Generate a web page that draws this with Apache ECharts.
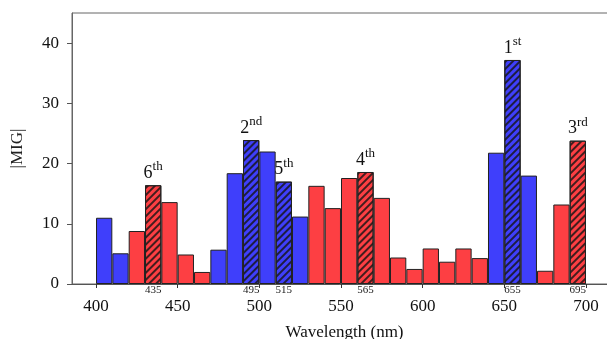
<!DOCTYPE html>
<html>
<head>
<meta charset="utf-8">
<script src="https://cdn.jsdelivr.net/npm/echarts@6/dist/echarts.min.js"></script>
<style>
  html, body { margin: 0; padding: 0; background: #fff; }
  #chart { width: 607px; height: 339px; }
</style>
</head>
<body>
<div id="chart"></div>
<script>
// bin centres (nm), 10 nm wide bins
const wavelengths = [405, 415, 425, 435, 445, 455, 465, 475, 485, 495,
  505, 515, 525, 535, 545, 555, 565, 575, 585, 595,
  605, 615, 625, 635, 645, 655, 665, 675, 685, 695];
const migValues = [11.0, 5.1, 8.8, 16.4, 13.6, 4.9, 2.0, 5.7, 18.4, 23.9,
  22.0, 17.0, 11.2, 16.3, 12.6, 17.6, 18.6, 14.3, 4.4, 2.5,
  5.9, 3.7, 5.9, 4.3, 21.8, 37.2, 18.0, 2.2, 13.2, 23.8];
// 'b' = blue group, 'r' = red group
const groups = ['b', 'b', 'r', 'r', 'r', 'r', 'r', 'b', 'b', 'b',
  'b', 'b', 'b', 'r', 'r', 'r', 'r', 'r', 'r', 'r',
  'r', 'r', 'r', 'r', 'b', 'b', 'b', 'r', 'r', 'r'];
// ranked (hatched) bins and their rank labels
const rankedBins = [655, 495, 695, 565, 515, 435];
const rankNum = ['1', '2', '3', '4', '5', '6'];
const rankSuffix = ['st', 'nd', 'rd', 'th', 'th', 'th'];
const majorTicks = [400, 450, 500, 550, 600, 650, 700];

const FONT = 'Liberation Serif';
const BLUE = '#3f3ffb';
const RED = '#fd3f43';

const barData = wavelengths.map((w, i) => {
  const k = rankedBins.indexOf(w);
  const item = {
    value: [w, migValues[i]],
    itemStyle: { color: groups[i] === 'b' ? BLUE : RED }
  };
  if (k >= 0) {
    item.itemStyle.decal = {
      symbol: 'rect',
      symbolSize: 1,
      dashArrayX: [1, 0],
      dashArrayY: [1.2, 2.2],
      rotation: -Math.PI / 4,
      color: 'rgba(20,20,20,0.8)'
    };
    item.label = {
      show: true,
      position: 'top',
      distance: 3,
      formatter: '{n|' + rankNum[k] + '}{s|' + rankSuffix[k] + '}'
    };
  }
  return item;
});

const chart = echarts.init(document.getElementById('chart'));
chart.setOption({
  animation: false,
  grid: {
    left: 72, right: -10, top: 13, bottom: 55,
    outerBoundsMode: 'none',
    show: true, borderColor: '#666', borderWidth: 1
  },
  xAxis: [{
    type: 'value',
    min: 385.3,
    max: 719,
    axisLine: { onZero: false, lineStyle: { color: '#555' } },
    splitLine: { show: false },
    axisTick: { customValues: majorTicks, length: 4, lineStyle: { color: '#333' } },
    axisLabel: {
      customValues: majorTicks, margin: 14,
      fontFamily: FONT, fontSize: 17, color: '#111'
    },
    name: 'Wavelength (nm)',
    nameLocation: 'middle',
    nameGap: 40,
    nameTextStyle: { fontFamily: FONT, fontSize: 17, color: '#111' }
  }, {
    type: 'value',
    position: 'bottom',
    min: 385.3,
    max: 719,
    axisLine: { show: false },
    splitLine: { show: false },
    axisTick: { show: false },
    axisLabel: {
      customValues: rankedBins, margin: 1,
      fontFamily: FONT, fontSize: 11, color: '#222'
    }
  }],
  yAxis: {
    type: 'value',
    min: 0,
    max: 45,
    interval: 10,
    axisLine: { show: true, lineStyle: { color: '#666' } },
    splitLine: { show: false },
    axisTick: { show: true, length: 5, lineStyle: { color: '#555' } },
    axisLabel: {
      margin: 13, showMaxLabel: false,
      fontFamily: FONT, fontSize: 17, color: '#111'
    },
    name: '|MIG|',
    nameLocation: 'middle',
    nameGap: 46,
    nameTextStyle: { fontFamily: FONT, fontSize: 17, color: '#222' }
  },
  series: [{
    type: 'bar',
    data: barData,
    barWidth: 16.3,
    itemStyle: { borderColor: '#222', borderWidth: 1 },
    label: {
      color: '#111',
      rich: {
        n: { fontFamily: FONT, fontSize: 18, color: '#111', lineHeight: 22, verticalAlign: 'bottom' },
        s: { fontFamily: FONT, fontSize: 13, color: '#111', lineHeight: 22, verticalAlign: 'top' }
      }
    }
  }]
});
</script>
</body>
</html>
